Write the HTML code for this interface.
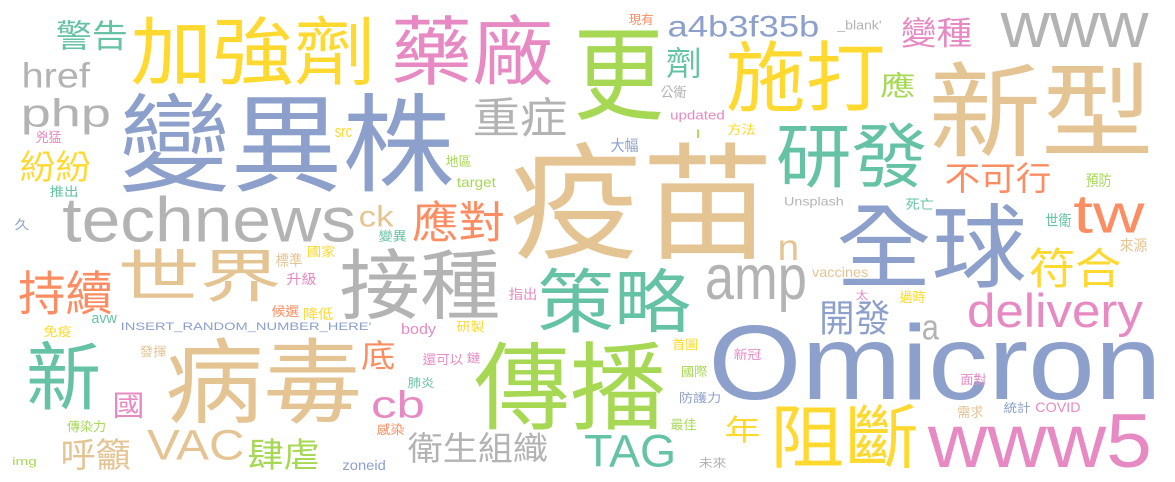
<!DOCTYPE html>
<html><head><meta charset="utf-8">
<style>
html,body{margin:0;padding:0;background:#fff;}
svg{display:block;}
</style></head>
<body>
<svg id="cloud" width="1175" height="482" viewBox="0 0 1175 482" xmlns="http://www.w3.org/2000/svg">
<rect width="1175" height="482" fill="#ffffff"/>
<g id="words"></g>
</svg>
<script>
const C={t:'#66c2a5',o:'#fc8d62',b:'#8da0cb',p:'#e78ac3',l:'#a6d854',y:'#ffd92f',n:'#e5c494',g:'#b3b3b3'};
// word, color, ink box [x0,y0,x1,y1]
const words=[
['疫苗','n',513,140,767,260],
['變異株','b',122,92,452,193],
['Omicron','b',713,322,1155,400],
['新型','n',933,60,1149,157],
['更','l',577,30,661,120],
['加強劑','y',132,15,369,85],
['藥廠','p',394,13,551,85],
['病毒','n',168,337,358,425],
['傳播','l',475,340,663,430],
['全球','b',839,202,1025,288],
['接種','g',341,248,498,320],
['世界','n',122,248,279,302],
['策略','t',540,267,690,333],
['施打','y',728,40,883,112],
['研發','t',778,122,925,188],
['technews','g',63,195,354,242],
['阻斷','y',776,403,916,468],
['www5','p',927,415,1149,468],
['www','g',1000,13,1149,47],
['新','t',29,340,98,410],
['delivery','p',969,293,1143,337],
['tw','o',1074,197,1145,233],
['應對','o',413,200,503,242],
['持續','o',19,270,111,315],
['amp','g',707,265,805,312],
['符合','y',1030,247,1120,288],
['重症','g',475,97,566,137],
['php','g',24,98,109,135],
['衛生組織','g',408,432,547,463],
['VAC','n',147,430,243,460],
['TAG','t',585,435,673,467],
['a4b3f35b','b',669,15,818,37],
['不可行','o',946,162,1050,193],
['cb','p',373,390,423,418],
['呼籲','n',63,438,130,470],
['肆虐','l',249,438,318,470],
['href','g',24,62,90,88],
['紛紛','y',21,150,90,182],
['警告','t',57,20,126,50],
['變種','p',902,17,971,48],
['開發','b',822,300,889,335],
['底','o',362,340,394,370],
['年','y',726,415,759,443],
['國','p',115,392,142,418],
['ck','n',360,205,394,227],
['劑','t',667,47,699,78],
['應','l',881,72,914,98],
['n','n',780,240,797,260],
['a','g',923,320,939,340],
['INSERT_RANDOM_NUMBER_HERE\'','b',122,322,371,332],
['Unsplash','g',785,197,843,208],
['vaccines','n',812,267,868,277],
['updated','p',671,110,724,122],
['_blank\'','g',837,20,881,32],
['target','l',457,178,496,190],
['body','p',402,323,436,337],
['zoneid','b',343,460,385,470],
['COVID','p',1036,402,1080,412],
['avw','t',92,315,117,323],
['src','y',335,128,352,137],
['img','l',13,457,36,467],
['I','l',697,130,699,138],
['現有','o',629,13,653,25],
['公衛','g',661,85,686,98],
['方法','y',728,123,755,135],
['大幅','b',611,138,638,152],
['預防','l',1086,173,1111,187],
['死亡','t',906,198,933,210],
['世衛','t',1046,213,1071,227],
['來源','n',1120,238,1147,252],
['太','p',856,290,868,300],
['過時','y',900,290,925,303],
['首圖','y',673,338,697,350],
['新冠','p',734,348,761,360],
['國際','l',682,365,707,377],
['面對','p',961,373,986,385],
['防護力','b',680,392,720,403],
['統計','b',1004,402,1030,413],
['需求','n',958,405,983,418],
['最佳','l',671,418,696,430],
['未來','g',699,457,726,468],
['兇猛','p',36,130,61,143],
['地區','l',446,155,471,167],
['推出','t',50,185,77,197],
['久','b',15,218,29,230],
['變異','t',379,230,406,242],
['國家','y',308,245,335,257],
['標準','n',276,253,302,267],
['升級','p',287,272,316,285],
['指出','p',509,287,536,300],
['候選','o',272,305,299,317],
['降低','y',304,307,333,320],
['免疫','y',44,325,71,337],
['研製','y',457,320,484,332],
['發揮','n',140,345,166,357],
['還可以','p',423,353,463,365],
['鏈','p',467,352,480,363],
['肺炎','t',408,377,434,388],
['傳染力','l',67,420,105,432],
['感染','o',377,423,404,435]
];
const FONT='"Liberation Sans","Noto Sans CJK TC","Noto Sans CJK SC",sans-serif';
const cv=document.createElement('canvas').getContext('2d');
cv.font='100px '+FONT;
const g=document.getElementById('words');
const NS='http://www.w3.org/2000/svg';
words.forEach((w,i)=>{
  const [txt,col,x0,y0,x1,y1]=w;
  const m=cv.measureText(txt);
  let L=m.actualBoundingBoxLeft, R=m.actualBoundingBoxRight, A=m.actualBoundingBoxAscent, D=m.actualBoundingBoxDescent;
  if(!(R+L>0)){L=0;R=m.width||50;}
  if(!(A+D>0)){A=80;D=10;}
  const sx=(x1-x0)/(L+R), sy=(y1-y0)/(A+D);
  const t=document.createElementNS(NS,'text');
  
  
  t.setAttribute('font-family',FONT);
  t.setAttribute('font-size','100');
  t.setAttribute('fill',C[col]);
  t.setAttribute('transform','translate('+(x0+L*sx)+','+(y0+A*sy)+') scale('+sx+','+sy+')');
  t.textContent=txt;
  g.appendChild(t);
});
</script>
</body></html>
